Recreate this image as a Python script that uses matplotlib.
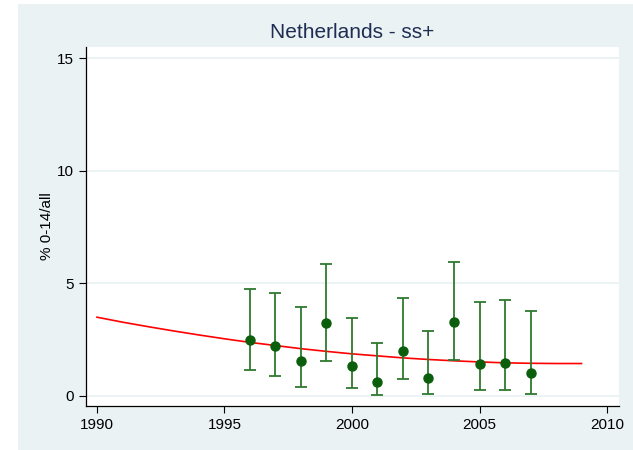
import matplotlib
matplotlib.use("Agg")
import matplotlib.pyplot as plt
from matplotlib.patches import Rectangle

plt.rcParams['font.family'] = ['Liberation Sans', 'DejaVu Sans']

# Data
years = [1996, 1997, 1998, 1999, 2000, 2001, 2002, 2003, 2004, 2005, 2006, 2007]
pct = [2.49, 2.22, 1.54, 3.23, 1.33, 0.61, 1.99, 0.78, 3.26, 1.42, 1.44, 1.01]
upper = [4.73, 4.57, 3.96, 5.87, 3.47, 2.34, 4.35, 2.86, 5.96, 4.15, 4.26, 3.78]
lower = [1.14, 0.86, 0.40, 1.54, 0.34, 0.04, 0.73, 0.06, 1.57, 0.27, 0.27, 0.08]

fit_years = list(range(1990, 2010))
fit_vals = [3.49, 3.27, 3.07, 2.88, 2.70, 2.53, 2.37, 2.23, 2.09, 1.97,
            1.86, 1.77, 1.68, 1.61, 1.55, 1.50, 1.46, 1.44, 1.43, 1.43]

title = "Netherlands - ss+"
ylabel = "% 0-14/all"
xticks = [1990, 1995, 2000, 2005, 2010]
yticks = [0, 5, 10, 15]

BG = "#EAF2F3"
W, H = 633, 450
fig = plt.figure(figsize=(W / 100, H / 100), dpi=100)
fig.patch.set_facecolor("white")
fig.add_artist(Rectangle((18 / W, 0), 1 - 18 / W, 1 - 4 / H, transform=fig.transFigure,
                         facecolor=BG, edgecolor="none", zorder=0))

ax = fig.add_axes([86 / W, 1 - 406 / H, (619 - 86) / W, (406 - 47) / H])
ax.set_facecolor("white")
ax.set_zorder(1)

for y in yticks:
    ax.axhline(y, color=BG, lw=1.3, zorder=1)

ax.plot(fit_years, fit_vals, color="#FF0000", lw=1.2, zorder=2)

yerr = [[p - l for p, l in zip(pct, lower)], [u - p for u, p in zip(upper, pct)]]
ax.errorbar(years, pct, yerr=yerr, fmt="none", ecolor="#2F7A2F", elinewidth=1.3,
            capsize=4, capthick=1.3, zorder=3)
ax.plot(years, pct, "o", color="#0B5E0B", markersize=6.5, zorder=4)

ax.set_xlim(1989.57, 2010.47)
ax.set_ylim(-0.46, 15.51)
ax.set_xticks(xticks)
ax.set_yticks(yticks)
ax.tick_params(direction="out", length=5, width=0.8, labelsize=11, colors="black")
for s in ["top", "right"]:
    ax.spines[s].set_visible(False)
for s in ["left", "bottom"]:
    ax.spines[s].set_color("black")
    ax.spines[s].set_linewidth(0.9)

ax.set_ylabel(ylabel, fontsize=11)
ax.yaxis.set_label_coords((54 - 86) / (619 - 86), 0.5)
fig.text((86 + 619) / 2 / W, 1 - 33 / H, title, ha="center", va="center",
         fontsize=15, color="#1E2D53")

fig.savefig("out.png", dpi=100, facecolor=fig.get_facecolor())
